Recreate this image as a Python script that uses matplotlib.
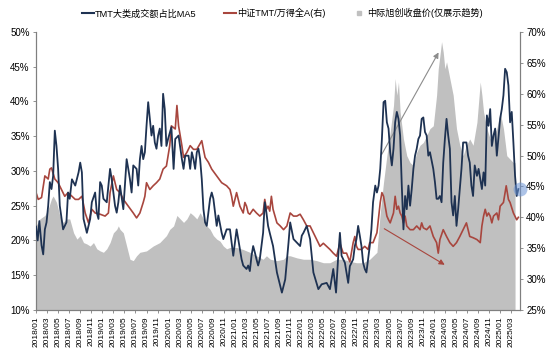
import matplotlib
matplotlib.use("Agg")
import matplotlib.pyplot as plt
from matplotlib.lines import Line2D

plt.rcParams['font.family'] = ['Liberation Sans', 'Noto Sans CJK SC', 'DejaVu Sans']

# month offsets from 2018/01
blue_m = [0.0, 0.3, 0.6, 1.0, 1.3, 1.6, 1.9, 2.2, 2.5, 2.8, 3.1, 3.4, 3.7, 4.0, 4.3, 4.9, 5.5, 5.8, 6.1, 6.5,
          7.1, 7.7, 8.0, 8.3, 8.6, 9.2, 9.8, 10.1, 10.7, 11.0, 11.3, 11.6, 11.9, 12.2, 12.8, 13.4, 13.7, 14.0,
          14.3, 14.6, 14.9, 15.2, 15.8, 16.4, 16.7, 17.0, 17.3, 17.6, 18.2, 18.5, 18.8, 19.1, 19.4, 19.7, 20.0,
          20.3, 20.6, 20.9, 21.2, 21.5, 21.8, 22.1, 22.4, 22.7, 23.0, 23.3, 23.6, 23.9, 24.5, 24.9, 25.2, 25.8,
          26.4, 26.7, 27.0, 27.6, 27.9, 28.2, 28.5, 28.8, 29.1, 29.4, 29.7, 30.0, 30.3, 30.6, 30.9, 31.5, 31.8,
          32.1, 32.4, 32.7, 33.0, 33.6, 33.9, 34.5, 35.1, 35.4, 35.7, 36.3, 36.6, 37.2, 37.5, 38.1, 38.4, 38.7,
          39.0, 39.3, 39.6, 39.9, 40.2, 40.5, 41.1, 41.4, 41.7, 42.0, 42.3, 42.9, 43.6, 44.2, 44.5, 45.1, 45.7,
          46.0, 46.6, 47.2, 47.8, 48.1, 48.4, 49.0, 49.6, 50.2, 51.1, 51.7, 52.6, 53.2, 53.8, 54.3, 54.7, 55.0,
          55.3, 55.9, 56.5, 56.8, 57.4, 57.7, 58.0, 58.3, 58.6, 58.9, 59.2, 59.5, 59.8, 60.1, 60.4, 60.7, 61.0,
          61.4, 61.7, 62.0, 62.3, 62.6, 62.9, 63.2, 63.5, 63.8, 64.1, 64.4, 64.7, 65.0, 65.3, 65.6, 65.9, 66.2,
          66.5, 66.8, 67.1, 67.4, 67.7, 68.0, 68.3, 68.6, 68.9, 69.2, 69.5, 69.8, 70.1, 70.4, 70.7, 71.0, 71.3,
          71.9, 72.2, 72.5, 72.8, 73.1, 73.4, 73.7, 74.0, 74.3, 74.6, 74.9, 75.2, 75.5, 75.8, 76.1, 76.4, 77.0,
          77.3, 77.9, 78.2, 78.5, 78.8, 79.1, 79.4, 79.8, 80.1, 80.7, 81.0, 81.3, 81.6, 81.9, 82.2, 82.5, 82.8,
          83.1, 83.4, 84.0, 84.3, 84.6, 84.9, 85.2, 85.5, 85.8, 86.1, 86.4, 86.7, 87.0, 87.3]
blue_v = [22.0, 20.0, 22.8, 19.3, 18.0, 21.6, 22.6, 25.0, 28.4, 27.4, 29.3, 35.8, 33.6, 30.3, 25.0, 21.6, 22.6,
          26.9, 26.0, 28.8, 27.9, 29.8, 31.2, 29.8, 23.1, 21.1, 23.1, 25.5, 26.9, 24.0, 23.1, 28.4, 27.9, 26.0,
          25.5, 30.3, 28.8, 26.9, 25.0, 24.0, 25.5, 27.9, 24.5, 31.7, 30.3, 28.8, 26.9, 30.8, 30.3, 27.9, 31.7,
          33.6, 31.7, 32.7, 36.5, 39.9, 37.5, 35.1, 36.5, 34.1, 33.2, 35.1, 36.1, 33.6, 41.1, 38.9, 33.6, 34.6,
          36.3, 30.3, 34.6, 35.1, 31.7, 30.3, 32.2, 32.2, 30.3, 32.7, 31.7, 30.3, 32.7, 33.2, 31.7, 28.8, 24.5,
          22.6, 22.1, 26.0, 26.9, 26.0, 24.0, 22.1, 23.6, 21.1, 20.2, 21.6, 21.6, 19.7, 17.8, 21.6, 20.2, 17.3,
          16.4, 15.9, 16.4, 15.6, 17.8, 19.2, 18.3, 17.3, 16.4, 17.3, 21.1, 25.5, 24.0, 22.1, 21.1, 19.2, 15.4,
          13.5, 12.5, 14.4, 19.7, 22.6, 20.2, 19.7, 19.2, 20.7, 21.1, 22.1, 20.2, 15.4, 13.0, 13.7, 13.9, 13.0,
          15.9, 12.5, 17.8, 21.1, 17.8, 16.8, 13.9, 16.3, 17.3, 19.2, 20.2, 22.1, 20.7, 19.2, 16.8, 15.9, 15.4,
          17.3, 19.2, 21.6, 25.5, 27.9, 26.9, 27.9, 30.3, 34.6, 39.9, 40.1, 37.0, 36.1, 32.7, 30.8, 33.2, 37.0,
          38.5, 37.5, 35.1, 27.9, 21.6, 26.4, 24.5, 27.9, 25.0, 27.4, 30.3, 32.2, 33.2, 34.6, 35.1, 37.5, 37.7,
          35.6, 35.1, 32.2, 32.7, 30.3, 28.4, 26.0, 26.0, 26.4, 25.5, 31.2, 34.6, 37.5, 35.1, 33.2, 25.5, 23.6,
          26.4, 22.1, 24.5, 30.3, 34.1, 34.1, 32.2, 31.2, 27.9, 26.4, 30.8, 29.3, 30.3, 27.4, 29.8, 27.9, 38.0,
          36.5, 38.9, 33.6, 35.1, 36.1, 32.2, 37.5, 38.9, 40.9, 44.7, 44.2, 42.3, 37.0, 38.5, 34.1, 29.3, 26.4,
          27.4]

red_m = [0.0, 0.4, 1.0, 1.6, 2.2, 2.5, 2.8, 3.4, 4.0, 4.6, 5.2, 5.8, 6.5, 7.1, 7.7, 8.3, 8.9, 9.5, 10.1, 10.7,
         11.6, 12.5, 13.1, 13.4, 14.0, 14.6, 15.2, 15.8, 16.7, 17.6, 18.2, 18.8, 19.4, 19.7, 20.0, 20.6, 21.2,
         21.8, 22.4, 23.0, 23.6, 24.2, 24.5, 25.2, 25.5, 25.8, 26.1, 26.4, 26.7, 27.3, 27.9, 28.5, 29.1, 30.0,
         30.3, 30.6, 31.2, 31.8, 32.7, 33.6, 34.5, 35.1, 35.4, 35.7, 36.0, 36.3, 36.6, 36.9, 37.5, 37.8, 38.1,
         38.4, 38.7, 39.3, 39.9, 40.5, 41.1, 41.4, 41.7, 42.0, 42.3, 42.6, 42.9, 43.6, 44.2, 44.8, 45.4, 46.0,
         46.6, 47.2, 47.8, 48.4, 49.0, 49.6, 50.2, 50.8, 51.4, 52.0, 52.6, 53.2, 53.8, 54.4, 55.0, 55.6, 56.2,
         56.8, 57.4, 57.7, 58.0, 58.3, 58.9, 59.5, 60.1, 60.4, 61.0, 61.7, 62.3, 62.6, 62.9, 63.2, 63.5, 63.8,
         64.1, 64.7, 65.0, 65.3, 65.6, 65.9, 66.2, 66.5, 66.8, 67.1, 67.7, 68.3, 68.9, 69.5, 69.8, 70.1, 70.7,
         71.3, 71.9, 72.5, 72.8, 73.1, 73.7, 74.3, 74.9, 75.5, 76.1, 76.7, 77.3, 77.9, 78.5, 79.1, 79.8, 80.4,
         80.7, 81.0, 81.3, 81.6, 81.9, 82.2, 82.5, 82.8, 83.4, 83.7, 84.0, 84.6, 85.1, 85.5, 85.8, 86.4, 87.0,
         87.3]
red_v = [44.0, 42.9, 43.2, 46.7, 46.2, 47.8, 48.0, 46.2, 45.6, 44.5, 43.4, 44.0, 43.4, 42.9, 42.9, 43.4, 40.7,
         39.1, 41.3, 40.7, 40.5, 40.2, 40.7, 44.0, 46.7, 44.5, 44.0, 42.9, 41.8, 40.7, 39.9, 40.7, 42.4, 43.4,
         45.6, 44.5, 45.1, 45.6, 46.2, 47.8, 48.3, 51.6, 54.8, 54.3, 58.1, 54.8, 53.2, 51.6, 49.7, 50.5, 51.6,
         51.0, 51.0, 52.4, 51.0, 49.7, 48.9, 47.8, 46.7, 45.6, 45.1, 44.5, 43.4, 41.8, 42.9, 44.0, 42.9, 41.8,
         40.7, 42.4, 41.8, 40.7, 40.5, 41.3, 40.7, 40.2, 40.7, 42.9, 41.3, 41.8, 41.0, 43.4, 41.3, 39.1, 38.6,
         38.0, 38.6, 40.7, 40.2, 40.2, 40.5, 39.6, 38.6, 38.6, 37.5, 36.4, 35.3, 35.8, 35.3, 34.8, 34.2, 33.7,
         35.8, 34.2, 34.2, 32.8, 35.9, 36.9, 35.3, 34.8, 34.8, 35.3, 34.8, 35.9, 35.9, 37.5, 42.4, 44.0, 43.4,
         41.8, 40.2, 39.6, 39.1, 40.7, 43.4, 41.3, 41.8, 40.7, 40.2, 39.1, 40.2, 38.6, 38.0, 38.0, 38.6, 38.0,
         39.1, 38.3, 38.0, 38.6, 36.9, 35.9, 34.2, 36.4, 38.0, 36.9, 35.9, 35.3, 35.9, 36.9, 38.0, 39.1, 36.9,
         36.7, 36.4, 35.9, 38.6, 40.2, 41.3, 40.2, 40.7, 40.2, 39.1, 40.2, 40.7, 39.6, 41.8, 42.4, 45.1, 42.9,
         42.4, 40.7, 39.6, 40.0]

grey_m = [0.0, 0.7, 1.6, 2.2, 2.8, 3.1, 3.7, 4.3, 4.9, 5.5, 6.1, 6.8, 7.4, 8.0, 8.6, 9.2, 9.8, 10.4, 11.0, 11.6,
          12.2, 12.8, 13.4, 14.0, 14.6, 14.9, 15.2, 15.8, 16.4, 17.0, 17.6, 18.2, 18.8, 20.0, 21.2, 22.4, 23.6,
          24.2, 24.9, 25.5, 26.1, 26.7, 27.3, 27.9, 28.5, 29.1, 29.7, 30.3, 30.9, 31.5, 32.1, 32.7, 33.3, 33.9,
          34.5, 35.1, 36.3, 37.5, 38.7, 39.9, 41.1, 41.7, 42.4, 43.6, 44.8, 45.4, 46.0, 47.2, 48.4, 49.6, 50.8,
          52.0, 53.2, 54.4, 55.6, 56.8, 58.0, 59.2, 60.4, 61.7, 62.3, 62.9, 63.5, 64.1, 64.7, 65.0, 65.3, 65.6,
          65.9, 66.5, 67.1, 67.7, 68.3, 68.9, 69.5, 70.1, 70.7, 71.3, 71.9, 72.5, 72.8, 73.1, 73.4, 73.7, 74.0,
          74.3, 74.9, 75.5, 76.1, 76.7, 77.3, 77.9, 78.5, 79.1, 79.8, 80.4, 80.7, 81.0, 81.6, 82.2, 82.8, 83.4,
          84.0, 84.6, 85.2, 85.8, 86.4, 86.7]
grey_v = [22.1, 23.1, 23.6, 24.5, 26.0, 26.4, 25.5, 23.6, 22.6, 23.1, 23.1, 21.1, 20.2, 20.7, 19.7, 19.5, 19.2,
          19.7, 18.8, 18.5, 18.3, 18.8, 19.7, 21.1, 21.6, 22.1, 21.6, 21.1, 19.2, 17.3, 17.1, 17.8, 18.3, 18.5,
          19.2, 19.7, 20.7, 21.6, 22.1, 23.6, 23.1, 22.6, 23.1, 24.0, 23.6, 23.1, 24.0, 23.1, 22.1, 21.6, 20.7,
          20.2, 19.9, 19.2, 18.8, 19.0, 19.0, 18.7, 18.3, 17.8, 17.3, 17.8, 17.3, 17.1, 17.3, 17.8, 17.8, 17.5,
          17.3, 17.3, 17.1, 16.8, 16.8, 17.3, 17.3, 17.0, 16.8, 16.8, 17.3, 18.3, 24.0, 28.4, 32.2, 35.6, 39.4,
          43.3, 40.9, 42.8, 38.5, 34.6, 32.2, 31.2, 30.8, 32.7, 33.7, 34.1, 35.1, 36.1, 36.5, 40.9, 44.7, 46.6,
          48.6, 47.1, 44.7, 45.7, 43.3, 40.9, 36.1, 33.7, 32.2, 33.7, 34.6, 33.7, 37.0, 42.8, 40.9, 38.5, 36.1,
          34.6, 35.1, 36.1, 38.5, 36.1, 32.2, 31.7, 31.2, 31.2]

tick_m = list(range(0, 87, 2))
tick_labels = [f"{2018 + k // 12}/{k % 12 + 1:02d}" for k in tick_m]

navy = '#1e3252'
brick = '#a8463e'

fig = plt.figure(figsize=(5.5, 3.59), dpi=100)
ax = fig.add_axes([0.0655, 0.1365, 0.88, 0.7745])
ax2 = ax.twinx()
ax3 = ax.twinx()

ax.fill_between(grey_m, grey_v, 10, color='#c0c0c0', linewidth=0)
ax2.plot(red_m, red_v, color=brick, lw=1.2)
ax3.plot(blue_m, blue_v, color=navy, lw=1.3)

ax.set_xlim(0, 87.6)
ax.set_ylim(10, 50)
ax2.set_ylim(25, 70)
ax3.set_ylim(10, 50)
ax3.axis('off')

# highlight dot where the blue line meets the right axis
ax3.plot(ax.get_xlim()[1], blue_v[-1], 'o', ms=10, color='#6a93d4', alpha=0.55,
         markeredgewidth=0, clip_on=False, zorder=5)

ax.set_yticks(range(10, 51, 5))
ax.set_yticklabels([f"{v}%" for v in range(10, 51, 5)], fontsize=7)
ax2.set_yticks(range(25, 71, 5))
ax2.set_yticklabels([f"{v}%" for v in range(25, 71, 5)], fontsize=7)
ax.set_xticks(tick_m)
ax.set_xticklabels(tick_labels, rotation=90, fontsize=6)

for a in (ax, ax2):
    a.spines['top'].set_visible(False)
    for s in ('left', 'right', 'bottom'):
        a.spines[s].set_color('#7f7f7f')
        a.spines[s].set_linewidth(0.8)
    a.tick_params(length=2.5, width=0.6, color='#7f7f7f', pad=2)

# trend arrows
ax.annotate('', xy=(73.1, 47.4), xytext=(62.3, 32.0),
            arrowprops=dict(arrowstyle='-|>', color='#8c8c8c', lw=0.8, mutation_scale=8))
ax.annotate('', xy=(74.4, 16.3), xytext=(62.6, 21.9),
            arrowprops=dict(arrowstyle='-|>', color=brick, lw=0.8, mutation_scale=8))

handles = [Line2D([], [], color=navy, lw=1.5),
           Line2D([], [], color=brick, lw=1.5),
           Line2D([], [], marker='s', ls='none', ms=3.5, color='#c0c0c0')]
labels = ['TMT大类成交额占比MA5', '中证TMT/万得全A(右)', '中际旭创收盘价(仅展示趋势)']
fig.legend(handles, labels, loc='upper center', bbox_to_anchor=(0.513, 1.0), ncol=3,
           frameon=False, fontsize=6.6, handlelength=1.3, handletextpad=0.15, columnspacing=3.0)

fig.savefig('out.png', dpi=100)
